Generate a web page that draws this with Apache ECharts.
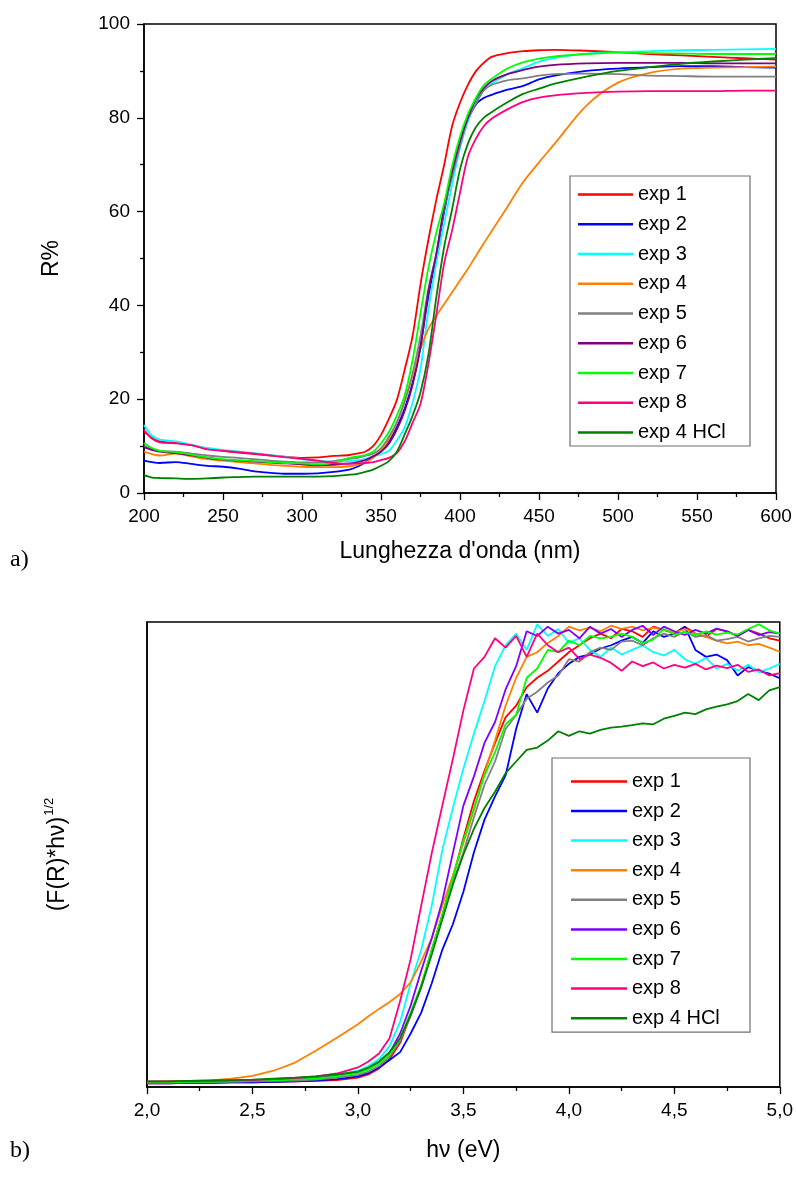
<!DOCTYPE html>
<html><head><meta charset="utf-8">
<script src="https://cdn.jsdelivr.net/npm/echarts@6/dist/echarts.min.js"></script>
<style>html,body{margin:0;padding:0;background:#fff}#c{width:796px;height:1177px}</style>
</head><body><div id="c"></div>
<script>
// ---- series names & colours ----
const names = ['exp 1','exp 2','exp 3','exp 4','exp 5','exp 6','exp 7','exp 8','exp 4 HCl'];
const colorsA = ['#ff0000','#0000ff','#00ffff','#ff8000','#808080','#800080','#00ff00','#ff0080','#008000'];
const colorsB = ['#ff0000','#0000ff','#00ffff','#ff8000','#808080','#8000ff','#00ff00','#ff0080','#008000'];

// ---- chart a): reflectance R% vs wavelength (nm) ----
const wl = [200,205,210,220,230,240,250,260,270,280,290,300,310,320,330,335,340,345,350,355,360,365,370,375,380,385,390,395,400,405,410,415,420,430,440,450,460,480,500,520,540,560,580,600];
const rExp1 = [13.1,11.8,11.0,10.7,10.2,9.5,9.0,8.6,8.3,8.0,7.7,7.5,7.6,7.9,8.1,8.4,8.8,10.0,12.4,15.8,19.8,26.3,33.5,44.5,54.0,62.5,70.0,78.2,83.2,87.0,89.9,91.7,93.0,93.8,94.2,94.4,94.5,94.3,94.0,93.6,93.3,93.0,92.7,92.4];
const rExp2 = [6.9,6.6,6.4,6.6,6.2,5.8,5.6,5.2,4.6,4.3,4.1,4.1,4.2,4.5,5.0,5.6,6.5,7.6,9.0,11.0,14.0,18.0,23.5,31.5,42.0,50.5,60.0,68.0,74.5,79.5,82.8,84.2,84.9,86.0,86.8,88.2,89.0,90.0,90.5,90.8,91.0,91.0,90.8,90.7];
const rExp3 = [14.5,12.2,11.4,11.0,10.3,9.6,9.2,8.8,8.5,8.1,7.7,7.2,6.9,6.7,6.8,7.0,7.3,7.8,8.3,9.0,11.2,14.0,19.3,26.5,39.0,49.0,57.5,65.8,73.5,79.2,83.5,86.0,87.3,89.3,90.6,92.0,92.8,93.7,94.0,94.2,94.4,94.5,94.6,94.7];
const rExp4 = [8.8,8.3,8.0,8.4,7.8,7.2,6.9,6.6,6.3,6.0,5.8,5.6,5.5,5.5,5.7,6.0,6.5,7.5,9.0,11.5,15.0,19.5,25.0,30.7,35.0,37.8,40.3,42.8,45.3,47.8,50.5,53.2,55.8,61.0,66.3,70.5,74.5,82.6,87.5,89.6,90.5,90.7,90.8,90.9];
const rExp5 = [10.0,9.4,9.0,8.8,8.4,8.0,7.7,7.5,7.2,6.9,6.7,6.5,6.5,6.8,7.3,7.5,7.9,8.4,9.5,12.0,15.0,19.6,25.5,33.5,43.5,51.0,60.5,67.5,74.0,79.8,83.0,85.8,87.0,88.0,88.4,89.0,89.3,89.4,89.3,89.0,88.9,88.8,88.8,88.8];
const rExp6 = [9.8,9.2,8.8,8.5,8.0,7.5,7.1,6.9,6.7,6.5,6.3,6.1,5.9,6.0,6.3,6.6,7.0,7.8,8.8,10.5,13.5,17.5,23.0,31.0,43.0,51.0,61.0,68.5,75.0,80.0,84.0,86.3,87.8,89.3,90.2,90.9,91.3,91.6,91.7,91.7,91.7,91.6,91.6,91.6];
const rExp7 = [10.6,9.6,9.0,8.7,8.2,7.6,7.2,7.0,6.8,6.6,6.4,6.3,6.1,6.5,7.5,7.8,8.1,8.8,10.6,13.0,16.5,20.8,28.3,38.3,48.0,55.5,61.8,69.7,76.0,80.8,84.2,86.9,88.3,90.5,91.8,92.6,93.1,93.6,93.9,93.8,93.7,93.6,93.6,93.6];
const rExp8 = [13.5,11.6,10.8,10.6,10.2,9.3,9.0,8.7,8.4,8.0,7.6,7.3,6.9,6.4,6.2,6.3,6.4,6.6,7.0,7.5,8.5,11.0,15.0,19.0,27.5,38.0,49.0,56.0,64.0,71.7,75.5,78.2,79.8,81.8,83.4,84.3,84.8,85.3,85.6,85.7,85.7,85.7,85.8,85.8];
const rExp4HCl = [3.8,3.3,3.2,3.1,3.0,3.1,3.3,3.4,3.5,3.5,3.5,3.5,3.5,3.6,3.9,4.1,4.5,5.0,5.8,6.8,8.8,12.5,16.5,21.5,29.5,41.7,52.5,60.5,69.0,74.5,78.0,80.0,81.2,83.3,85.1,86.2,87.3,88.8,90.0,90.8,91.5,92.0,92.4,92.7];

// ---- chart b): (F(R)*hv)^1/2 vs photon energy (eV), arbitrary units ----
const ev = [2.0,2.1,2.2,2.3,2.4,2.5,2.6,2.7,2.8,2.9,3.0,3.05,3.1,3.15,3.2,3.25,3.3,3.35,3.4,3.45,3.5,3.55,3.6,3.65,3.7,3.75,3.8,3.85,3.9,3.95,4.0,4.05,4.1,4.15,4.2,4.25,4.3,4.35,4.4,4.45,4.5,4.55,4.6,4.65,4.7,4.75,4.8,4.85,4.9,4.95,5.0];
const fExp1 = [0.8,0.8,0.9,0.9,1.0,1.0,1.1,1.2,1.3,1.5,2.0,2.7,4.0,6.0,9.5,15.5,21.5,29.5,37,45,53.5,61.5,68,74,79.5,82,86,88,89.5,91.5,93.5,95,96.5,97.5,96.5,98.5,98,96.8,99,98.3,97.5,99,97.5,96.8,98.5,98,97,98.3,97.5,96.5,96];
const fExp2 = [0.8,0.8,0.9,0.9,1.0,1.0,1.1,1.2,1.4,1.7,2.3,3.0,4.2,5.8,7.5,11.5,16,22.3,29.5,35,42,50.5,57.5,62.5,67,77,84.5,80.5,85.7,89,91,92.5,93,94.3,95,96,96.8,95.5,98,96.8,97.5,99,94,92.5,93,91.8,88.5,90.3,89.5,88.9,87.9];
const fExp3 = [1.1,1.1,1.2,1.2,1.3,1.4,1.5,1.7,2.0,2.6,3.5,4.5,6.0,8.8,14,22.3,29.5,39,51,60,68.5,76,83,90.5,95,97.5,94,99.5,97,98.5,95.5,96.5,94,92.5,94.5,93,94,95,93.5,92.8,94,92,91,92.3,90,91,89.5,90.8,89.2,90,91];
const fExp4 = [1.1,1.2,1.3,1.4,1.8,2.4,3.5,5.2,7.8,10.6,13.5,15.2,16.8,18.3,20,22.5,27,32,39,45.5,52.5,59.5,67.5,74.5,82,88,92.5,93.5,95.5,97,99,98.2,98.8,98,99.2,98.5,99,98.2,98.8,98.3,97.7,98.5,97.5,96.8,96,95.4,95.8,95,95.3,94.5,93.6];
const fExp5 = [0.9,0.9,1.0,1.0,1.1,1.2,1.3,1.4,1.6,2.0,2.6,3.3,4.5,6.5,10,15.3,21.5,29,36.5,44,50.5,58,65,70,77,80,83.5,85,87,88.5,92,91.5,93.5,94.5,94,95.8,96,95,96.5,97.5,96.8,98,96.8,97.2,96,96.3,96.8,95.8,96.5,97,96.8];
const fExp6 = [1.0,1.0,1.1,1.1,1.2,1.3,1.4,1.6,1.9,2.4,3.2,4.0,5.3,7.3,11.5,17.5,25,32,40,50.3,60.5,66.8,74,78.5,85.5,90.5,98,97,99,97.5,98.3,96.5,99,97.5,98.5,96.8,98.3,99.2,97.2,99,98,97.2,98.3,97.5,98.6,98,97,98.3,97.2,97.8,97.5];
const fExp7 = [1.0,1.0,1.1,1.1,1.2,1.3,1.4,1.6,1.8,2.3,3.0,3.8,5.0,7.0,10.5,16,22,29.5,37,45,53,60,67,72,78,80,88,90,94,93.5,96,95,97,96.5,96.8,97.5,96.8,95.5,96.2,98.5,97.3,97.8,97.2,98,97.3,97.7,97.3,98.5,99.5,98.2,97.5];
const fExp8 = [1.2,1.2,1.3,1.3,1.4,1.5,1.7,1.9,2.3,2.9,4.2,5.5,7.2,10.5,18.5,27.5,39,50.3,60.5,70.5,81,90,92.5,96.5,94.5,97,92.5,97.5,95,93.5,94.5,92,93,92.3,91.2,89.5,91.5,90.5,91.3,90,90.8,90.2,91,89.8,90.6,90.1,90.8,89.3,89.8,88.5,89];
const fExp4HCl = [1.2,1.2,1.3,1.4,1.5,1.6,1.8,2.0,2.3,2.7,3.3,4.2,5.5,7.5,10.5,15.5,21.5,28.5,36,43.5,50,55.5,60,63.5,67.5,70,72.5,73,74.5,76.5,75.5,76.5,76,76.8,77.3,77.5,77.8,78.2,78,79.2,79.8,80.5,80.2,81.2,81.8,82.3,83,84.5,83.2,85.3,86];

const seriesA = [rExp1,rExp2,rExp3,rExp4,rExp5,rExp6,rExp7,rExp8,rExp4HCl];
const seriesB = [fExp1,fExp2,fExp3,fExp4,fExp5,fExp6,fExp7,fExp8,fExp4HCl];

const FONT = '"Liberation Sans", Arial, sans-serif';
const BLACK = '#000';

function xAxisCfg(gi, min, max, interval, name, nameGap, fmt) {
  return {
    type: 'value', gridIndex: gi, min, max, interval,
    name, nameLocation: 'middle', nameGap,
    nameTextStyle: {fontFamily: FONT, fontSize: 23, color: BLACK},
    axisLine: {show: true, onZero: false, lineStyle: {color: BLACK, width: 1.5}},
    axisTick: {show: true, inside: false, length: 7, lineStyle: {color: BLACK, width: 1.3}},
    minorTick: {show: true, splitNumber: 2, length: 4, lineStyle: {color: BLACK, width: 1.3}},
    axisLabel: {show: true, margin: 14, fontFamily: FONT, fontSize: 19, color: BLACK,
      showMinLabel: true, showMaxLabel: true, formatter: fmt},
    splitLine: {show: false}, minorSplitLine: {show: false}
  };
}

const series = [];
names.forEach((n, k) => {
  series.push({
    type: 'line', name: n, xAxisIndex: 0, yAxisIndex: 0,
    data: wl.map((x, i) => [x, seriesA[k][i]]),
    showSymbol: false, smooth: 0.3,
    color: colorsA[k], lineStyle: {width: 1.8, color: colorsA[k]}, itemStyle: {color: colorsA[k]},
    animation: false, silent: true
  });
});
names.forEach((n, k) => {
  series.push({
    type: 'line', name: n + ' ', xAxisIndex: 1, yAxisIndex: 1,
    data: ev.map((x, i) => [x, seriesB[k][i]]),
    showSymbol: false,
    color: colorsB[k], lineStyle: {width: 1.8, color: colorsB[k]}, itemStyle: {color: colorsB[k]},
    animation: false, silent: true
  });
});

function legendCfg(list, colors, left, top, padding, textW, gap, iw) {
  return {
    orient: 'vertical', left, top, padding, itemGap: gap,
    itemWidth: iw, itemHeight: 2.5, icon: 'rect', selectedMode: false,
    backgroundColor: '#fff', borderColor: '#707070', borderWidth: 1.2, borderRadius: 0,
    textStyle: {fontFamily: FONT, fontSize: 20, color: BLACK, lineHeight: 20, width: textW},
    data: list.map((n, k) => ({name: n, itemStyle: {color: colors[k]}})),
    formatter: (n) => n.trim()
  };
}

const option = {
  backgroundColor: '#fff',
  animation: false,
  grid: [
    {left: 144, top: 24, width: 632, height: 469, show: true, borderColor: BLACK, borderWidth: 1.5, backgroundColor: 'transparent'},
    {left: 147, top: 622, width: 634, height: 465, show: true, borderColor: BLACK, borderWidth: 1.5, backgroundColor: 'transparent'}
  ],
  xAxis: [
    xAxisCfg(0, 200, 600, 50, "Lunghezza d'onda (nm)", 47, (v) => String(v)),
    xAxisCfg(1, 2, 5, 0.5, 'h\u03bd (eV)', 52, (v) => v.toFixed(1).replace('.', ','))
  ],
  yAxis: [
    {
      type: 'value', gridIndex: 0, min: 0, max: 100, interval: 20,
      name: 'R%', nameLocation: 'middle', nameGap: 81, nameRotate: 90,
      nameTextStyle: {fontFamily: FONT, fontSize: 23, color: BLACK},
      axisLine: {show: true, onZero: false, lineStyle: {color: BLACK, width: 1.5}},
      axisTick: {show: true, inside: false, length: 7, lineStyle: {color: BLACK, width: 1.3}},
      minorTick: {show: true, splitNumber: 2, length: 4, lineStyle: {color: BLACK, width: 1.3}},
      axisLabel: {margin: 14, fontFamily: FONT, fontSize: 19, color: BLACK, showMinLabel: true, showMaxLabel: true},
      splitLine: {show: false}
    },
    {
      type: 'value', gridIndex: 1, min: 0, max: 100,
      name: '{a|(F(R)*h\u03bd)}{sup|1/2}', nameLocation: 'middle', nameGap: 78, nameRotate: 90,
      nameTextStyle: {fontFamily: FONT, fontSize: 23, color: BLACK,
        rich: {
          a: {fontFamily: FONT, fontSize: 23, color: BLACK, lineHeight: 26, verticalAlign: 'bottom'},
          sup: {fontFamily: FONT, fontSize: 13, color: BLACK, lineHeight: 13, verticalAlign: 'top', padding: [0, 0, 0, 1]}
        }},
      axisLine: {show: true, onZero: false, lineStyle: {color: BLACK, width: 1.5}},
      axisTick: {show: false}, minorTick: {show: false},
      axisLabel: {show: false}, splitLine: {show: false}
    }
  ],
  legend: [
    legendCfg(names, colorsA, 570, 176, [8.6, 5, 3.4, 8], 107, 9.75, 55),
    legendCfg(names.map(n => n + ' '), colorsB, 552, 758, [13.4, 12, 4, 19], 106, 9.6, 56)
  ],
  graphic: [
    {type: 'text', left: 10, top: 548, style: {text: 'a)', font: '24px "Liberation Serif", "Times New Roman", serif', fill: BLACK}},
    {type: 'text', left: 10, top: 1139, style: {text: 'b)', font: '24px "Liberation Serif", "Times New Roman", serif', fill: BLACK}}
  ],
  series
};

const chart = echarts.init(document.getElementById('c'), null, {renderer: 'canvas', width: 796, height: 1177});
chart.setOption(option);
</script>
</body></html>
